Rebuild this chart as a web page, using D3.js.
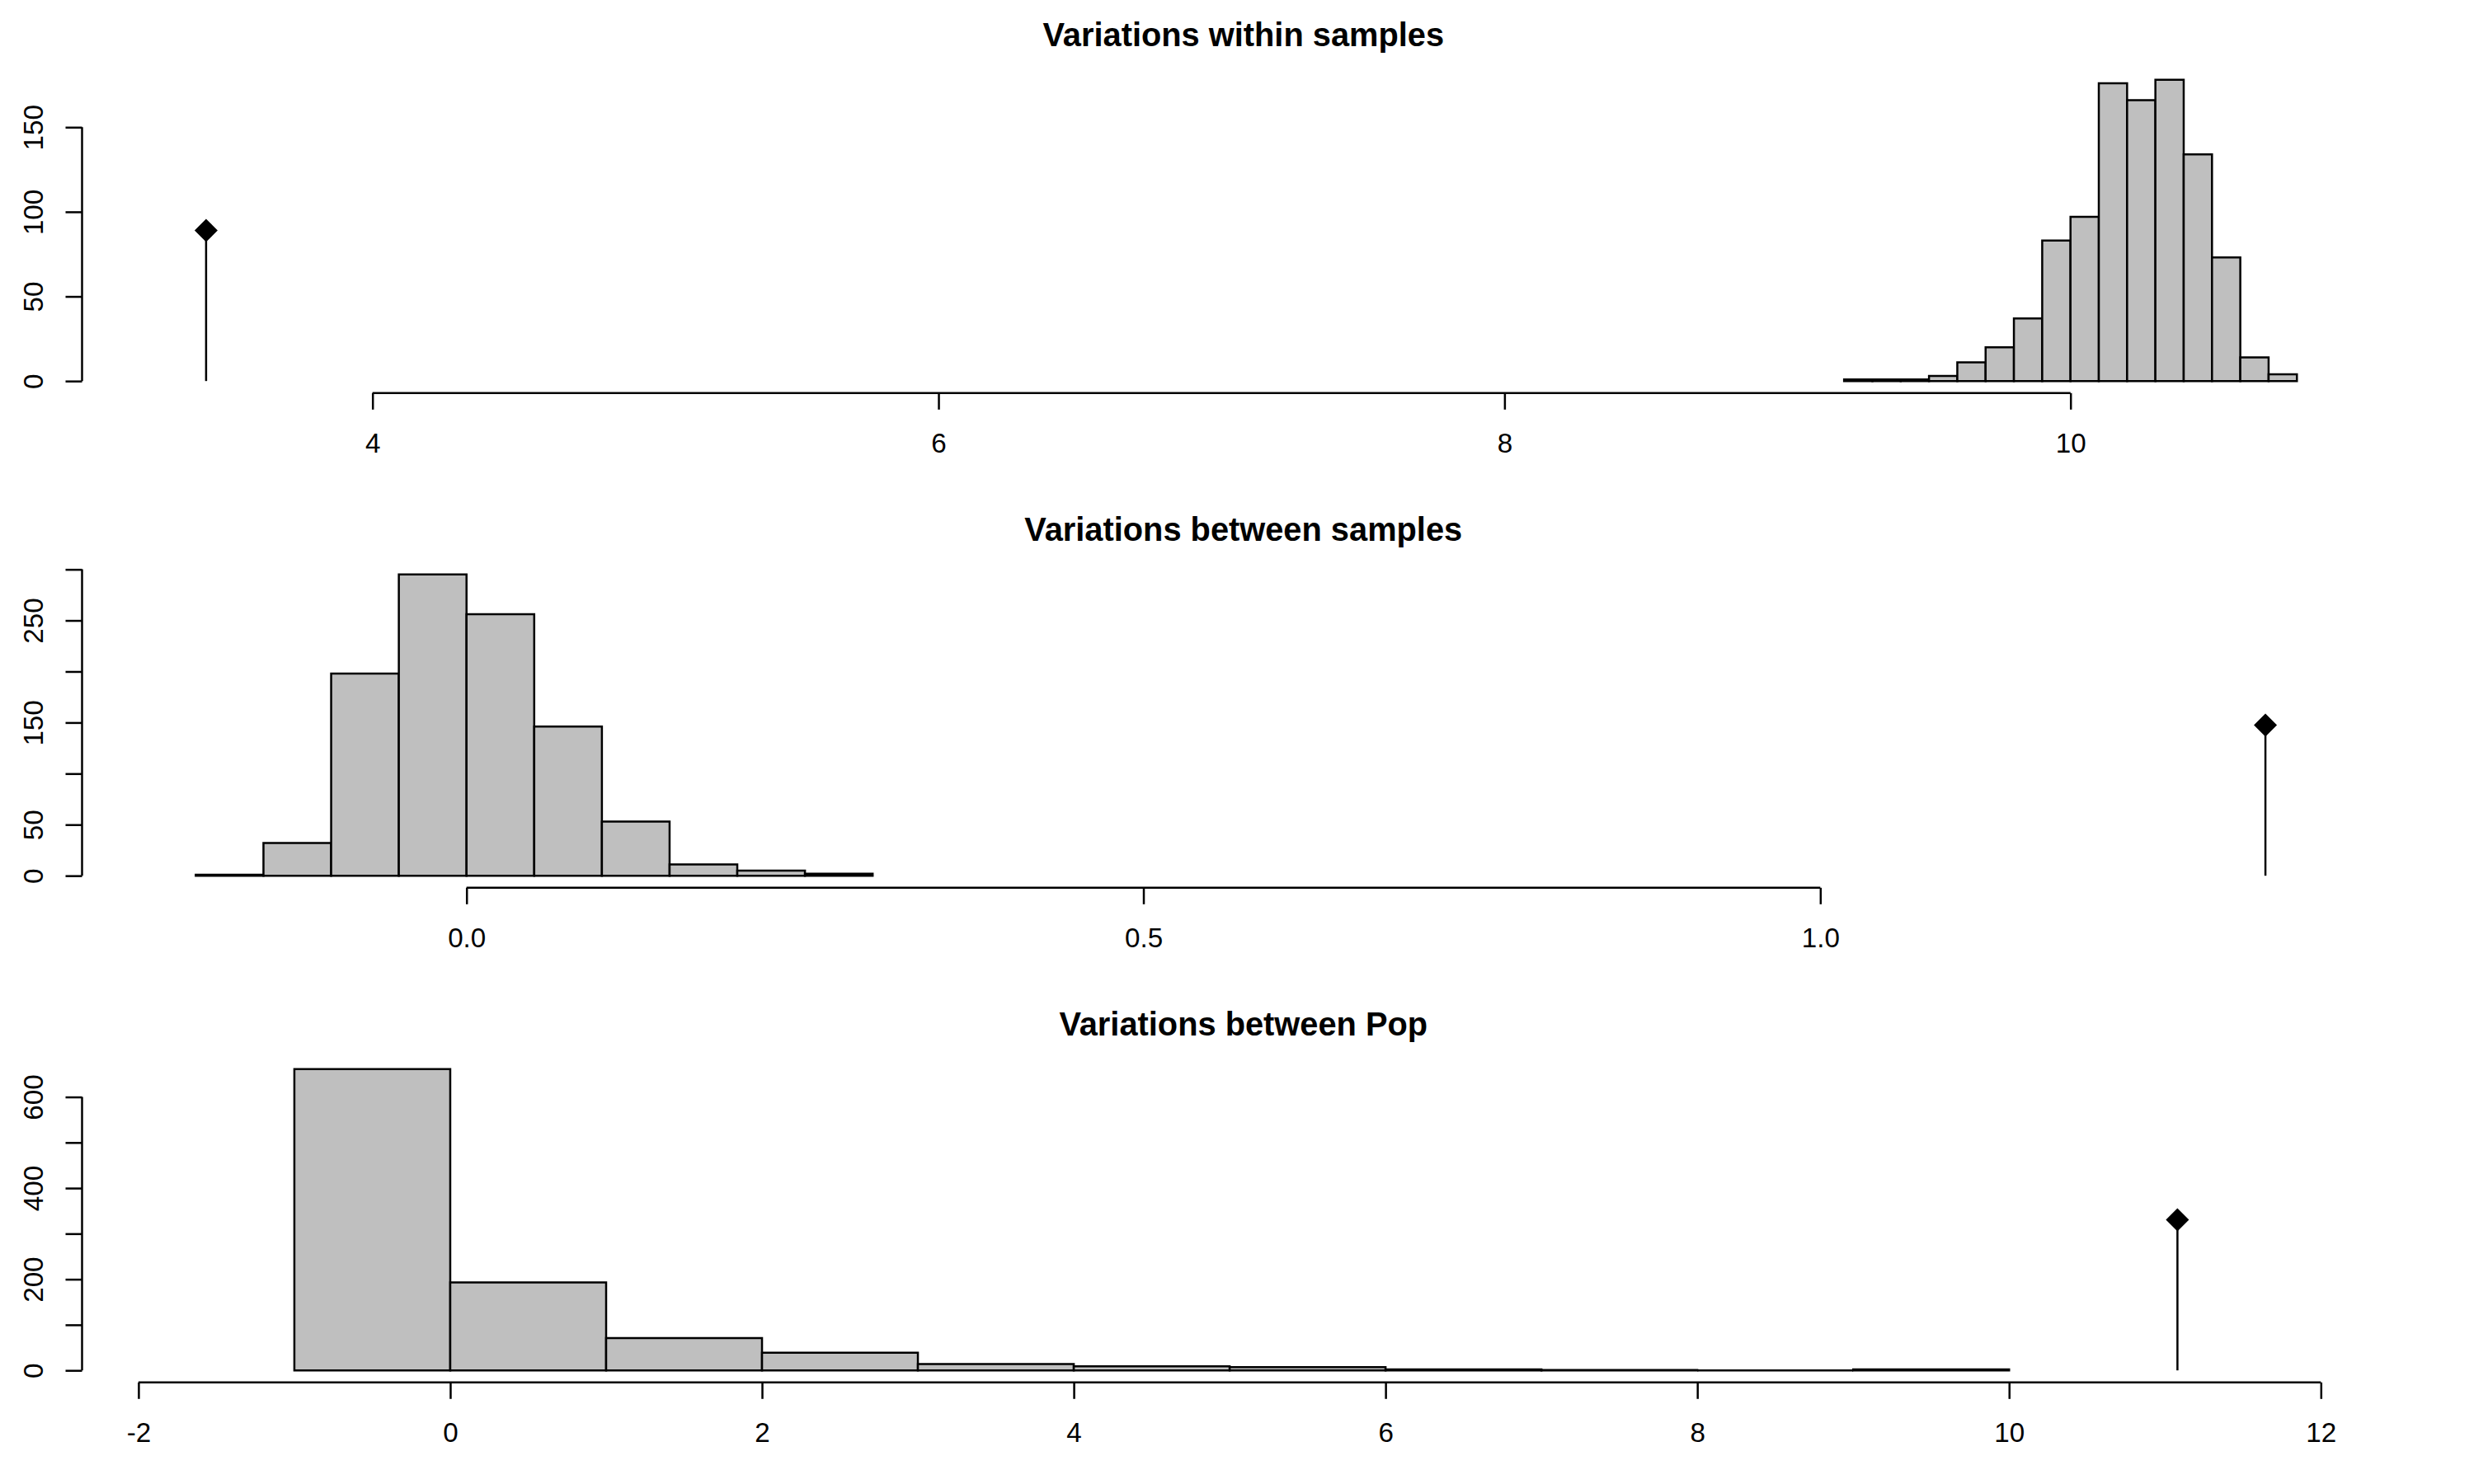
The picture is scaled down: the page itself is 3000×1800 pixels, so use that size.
<!DOCTYPE html>
<html>
<head>
<meta charset="utf-8">
<script src="https://cdn.jsdelivr.net/npm/d3@7/dist/d3.min.js"></script>
<style>
  html, body { margin: 0; padding: 0; background: #ffffff; }
  svg { display: block; }
  text { font-family: "Liberation Sans", Arial, Helvetica, sans-serif; fill: #000; }
</style>
</head>
<body>
<script>
// ---------------- DATA ----------------
const titles = ["Variations within samples", "Variations between samples", "Variations between Pop"];

// Panel 1 : Variations within samples
const breaksWithin = [9.2, 9.3, 9.4, 9.5, 9.6, 9.7, 9.8, 9.9, 10.0, 10.1, 10.2, 10.3, 10.4, 10.5, 10.6, 10.7, 10.8];
const countsWithin = [1, 1, 1, 3, 11, 20, 37, 83, 97, 176, 166, 178, 134, 73, 14, 4];
const obsWithin = 3.412;
const xlimWithin = [2.9737, 11.181];
const xTicksWithin = [4, 6, 8, 10];
const xTickLabelsWithin = ["4", "6", "8", "10"];
const yTicksWithin = [0, 50, 100, 150];
const yTickLabelsWithin = ["0", "50", "100", "150"];

// Panel 2 : Variations between samples
const breaksBetween = [-0.2, -0.15, -0.1, -0.05, 0.0, 0.05, 0.1, 0.15, 0.2, 0.25, 0.3];
const countsBetween = [1, 32, 198, 295, 256, 146, 53, 11, 5, 2];
const obsBetween = 1.3288;
const xlimBetween = [-0.284, 1.4317];
const xTicksBetween = [0, 0.5, 1.0];
const xTickLabelsBetween = ["0.0", "0.5", "1.0"];
const yTicksBetween = [0, 50, 100, 150, 200, 250, 300];
const yTickLabelsBetween = ["0", "50", "", "150", "", "250", ""];

// Panel 3 : Variations between Pop
const breaksPop = [-1, 0, 1, 2, 3, 4, 5, 6, 7, 8, 9, 10];
const countsPop = [661, 193, 71, 39, 14, 9, 7, 2, 1, 0, 2];
const obsPop = 11.08;
const xlimPop = [-2.3619, 12.538];
const xTicksPop = [-2, 0, 2, 4, 6, 8, 10, 12];
const xTickLabelsPop = ["-2", "0", "2", "4", "6", "8", "10", "12"];
const yTicksPop = [0, 100, 200, 300, 400, 500, 600];
const yTickLabelsPop = ["0", "", "200", "", "400", "", "600"];

// ---------------- LAYOUT ----------------
const W = 3000, H = 1800;
const panelH = 600;
const plotLeft = 99.5, plotRight = 2916;
const plotTopOff = 82.2, plotBottomOff = 476.8;
const lw = 2.5;
const tickFont = 33.2, titleFont = 39.8;
const barFill = "#bfbfbf";

const panels = [
  { title: titles[0], breaks: breaksWithin, counts: countsWithin, obs: obsWithin, xlim: xlimWithin,
    xTicks: xTicksWithin, xLabels: xTickLabelsWithin, yTicks: yTicksWithin, yLabels: yTickLabelsWithin },
  { title: titles[1], breaks: breaksBetween, counts: countsBetween, obs: obsBetween, xlim: xlimBetween,
    xTicks: xTicksBetween, xLabels: xTickLabelsBetween, yTicks: yTicksBetween, yLabels: yTickLabelsBetween },
  { title: titles[2], breaks: breaksPop, counts: countsPop, obs: obsPop, xlim: xlimPop,
    xTicks: xTicksPop, xLabels: xTickLabelsPop, yTicks: yTicksPop, yLabels: yTickLabelsPop }
];

const svg = d3.select("body").append("svg")
  .attr("width", W).attr("height", H)
  .attr("viewBox", `0 0 ${W} ${H}`);
svg.append("rect").attr("width", W).attr("height", H).attr("fill", "#fff");

panels.forEach((p, i) => {
  const top = i * panelH;
  const g = svg.append("g").attr("transform", `translate(0,${top})`);
  const maxC = d3.max(p.counts);

  const x = d3.scaleLinear().domain(p.xlim).range([plotLeft, plotRight]);
  const y = d3.scaleLinear().domain([-0.04 * maxC, 1.04 * maxC]).range([plotBottomOff, plotTopOff]);

  // title
  g.append("text")
    .attr("x", (plotLeft + plotRight) / 2)
    .attr("y", 56.2)
    .attr("text-anchor", "middle")
    .attr("font-size", titleFont)
    .attr("font-weight", "bold")
    .text(p.title);

  // histogram bars (drawn as closed paths so empty bins still show as a line)
  const bins = p.counts.map((c, k) => ({ x0: p.breaks[k], x1: p.breaks[k + 1], c }));
  g.append("g").selectAll("path").data(bins).join("path")
    .attr("d", d => `M${x(d.x0)},${y(0)}H${x(d.x1)}V${y(d.c)}H${x(d.x0)}Z`)
    .attr("fill", barFill)
    .attr("stroke", "#000")
    .attr("stroke-width", lw);

  // observed value: stem + diamond
  g.append("line")
    .attr("x1", x(p.obs)).attr("x2", x(p.obs))
    .attr("y1", y(maxC / 2)).attr("y2", y(0))
    .attr("stroke", "#000").attr("stroke-width", lw);
  g.append("path")
    .attr("d", d3.symbol().type(d3.symbolSquare).size(392)())
    .attr("transform", `translate(${x(p.obs)},${y(maxC / 2)}) rotate(45)`)
    .attr("fill", "#000");

  // x axis
  const xAxis = d3.axisBottom(x)
    .tickValues(p.xTicks)
    .tickFormat((d, k) => p.xLabels[k])
    .tickSize(20)
    .tickPadding(28.8);
  const gx = g.append("g").attr("transform", `translate(0,${plotBottomOff})`).call(xAxis);
  gx.select(".domain")
    .attr("d", `M${x(p.xTicks[0])},0H${x(p.xTicks[p.xTicks.length - 1])}`)
    .attr("stroke-width", lw);
  gx.selectAll(".tick line").attr("stroke-width", lw);
  gx.selectAll(".tick text").attr("font-size", tickFont).attr("font-family", null);
  gx.attr("font-family", null).attr("font-size", null);

  // y axis
  const yAxis = d3.axisLeft(y)
    .tickValues(p.yTicks)
    .tickFormat((d, k) => p.yLabels[k])
    .tickSize(20);
  const gy = g.append("g").attr("transform", `translate(${plotLeft},0)`).call(yAxis);
  gy.select(".domain")
    .attr("d", `M0,${y(p.yTicks[0])}V${y(p.yTicks[p.yTicks.length - 1])}`)
    .attr("stroke-width", lw);
  gy.selectAll(".tick line").attr("stroke-width", lw);
  gy.attr("font-family", null).attr("font-size", null);
  gy.selectAll(".tick text")
    .attr("font-size", tickFont)
    .attr("x", 0).attr("y", 0).attr("dy", 0)
    .attr("text-anchor", "middle")
    .attr("transform", `translate(${51.7 - plotLeft},0) rotate(-90)`);
});
</script>
</body>
</html>
